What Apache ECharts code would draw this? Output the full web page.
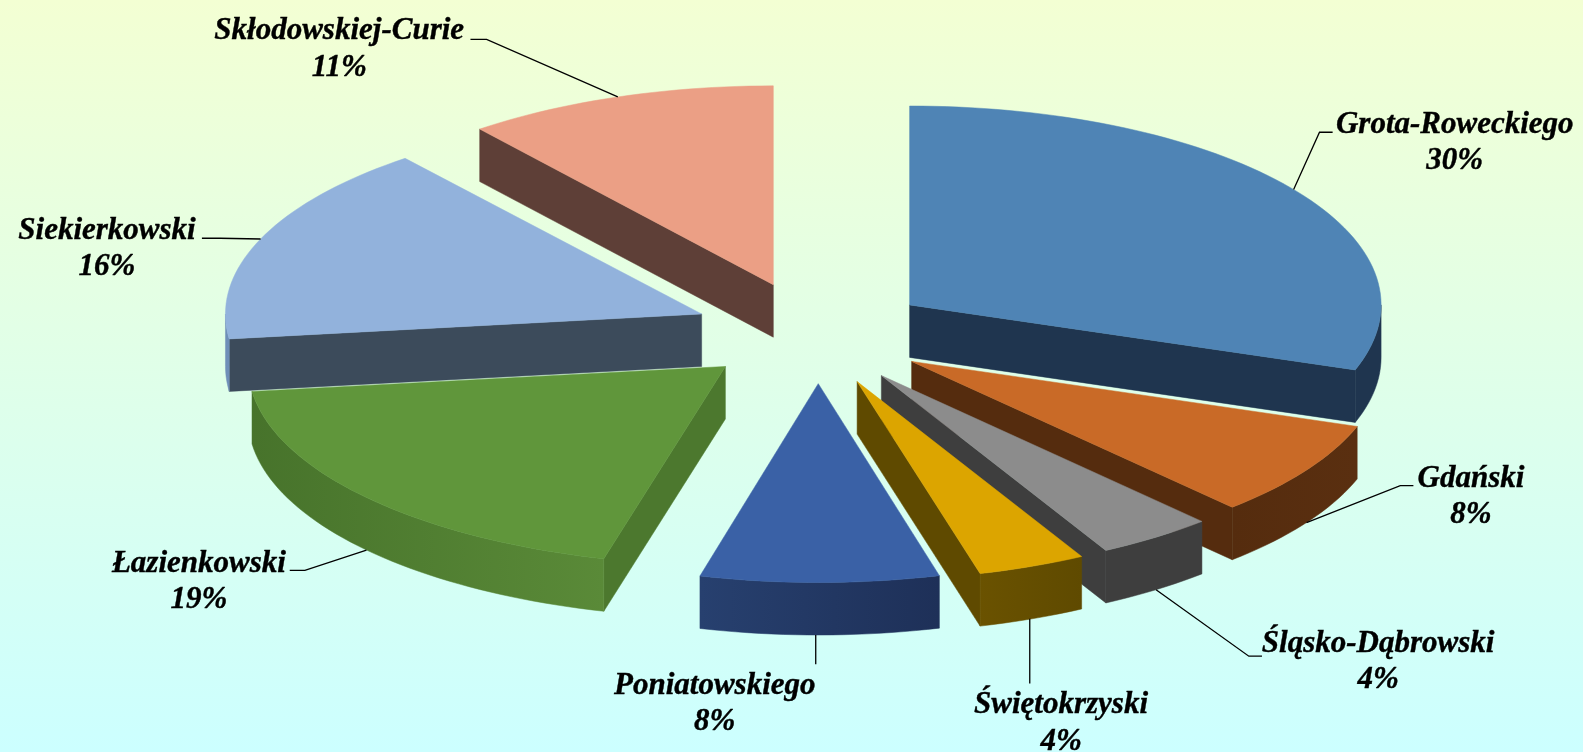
<!DOCTYPE html>
<html><head><meta charset="utf-8">
<style>html,body{margin:0;padding:0;width:100%;height:100%;overflow:hidden}#c{width:1583px;height:752px}</style>
<script src="https://cdn.jsdelivr.net/npm/echarts@6/dist/echarts.min.js"></script>
</head><body><div id="c"></div>
<script>
// ---- data (labels show the rounded percentage; slice angles) ----
const categories = ['Grota-Roweckiego','Gdański','Śląsko-Dąbrowski','Świętokrzyski','Poniatowskiego','Łazienkowski','Siekierkowski','Skłodowskiej-Curie'];
const values = [30.3,7.8,4.0,3.7,8.3,18.9,16.3,10.7];

// ---- style ----
const topColors  = ['#4f84b5','#c96a27','#8c8c8c','#dca500','#3a61a6','#60963b','#92b2dc','#eb9f85'];
const faceColors = ['#1f354f','#552c0e','#3e3e3e','#5f4a00','#1f3058','#4c782e','#3c4b5b','#5e3f37'];
const rimColors  = [['#1f354f','#1f354f'],['#552c0e','#5a2f10'],['#3e3e3e','#3e3e3e'],['#6a5200','#5f4a00'],['#27406f','#1e3058'],['#47732b','#5a8a38'],['#6f8fb8','#6f8fb8'],['#5e3f37','#5e3f37']];

// ---- layout (measured on a 1568-wide view, scaled by K) ----
const K = 1583/1568;
const RX = 467*K, RY = 197*K, DEPTH = 52*K;
const radiusScale = [1,1,1,1,0.985,1.012,1.01,1];
const apexes = [[901,302],[903,358],[873,372],[849,378],[810.5,380],[718.5,363],[695,311],[766,282]];
const elbows = [[[1307,131],[1320,131]],[[1387,481],[1400,481]],[[1237,650],[1250,650]],[[1020,677]],[[808,658]],[[302,565],[287,565]],[[218,236],[200,236]],[[482,39],[466,39]]];
const verticalLeader = [false,false,false,true,true,false,false,false];
const labelPos = [[1441,123.5],[1457,474.5],[1365,637.5],[1051,698.5],[708,679.5],[197,558.5],[106,228.5],[336,31]];
const LINE_GAP = 36, FONT = 31;
const drawOrder = [7,6,5,0,1,2,3,4];

const total = values.reduce((a,b)=>a+b,0);
const starts = []; { let c=0; values.forEach(v=>{starts.push(c/total*360); c+=v;}); }
const rad = d=>d*Math.PI/180;

function renderItem(params, api){
  const i = drawOrder[params.dataIndex];
  const s = starts[i], e = s + values[i]/total*360;
  const cx = apexes[i][0]*K, cy = apexes[i][1]*K;
  const rx = RX*radiusScale[i];
  const pt = (t,dz)=>[cx+rx*Math.sin(rad(t)), cy-RY*Math.cos(rad(t))+(dz||0)];
  const arc = (a,b,dz)=>{const n=Math.max(2,Math.ceil(Math.abs(b-a)/1.5)),o=[];for(let j=0;j<=n;j++)o.push(pt(a+(b-a)*j/n,dz));return o;};
  const ch = [];
  const poly = (points,fill)=>ch.push({type:'polygon',shape:{points},style:{fill,stroke:fill,lineWidth:0.5},silent:true});

  // visible cut faces
  const quad = t=>{const a=pt(t,0),b=pt(t,DEPTH);poly([[cx,cy],a,b,[cx,cy+DEPTH]],faceColors[i]);};
  if (Math.sin(rad(s))<-1e-6) quad(s);
  if (Math.sin(rad(e))>1e-6) quad(e);
  // outer wall (front half only)
  const a0=Math.max(s,90), a1=Math.min(e,270);
  if (a1>a0){
    const rim=rimColors[i];
    const fill=new echarts.graphic.LinearGradient(0,0,1,0,[{offset:0,color:rim[0]},{offset:1,color:rim[1]}]);
    poly(arc(a0,a1,0).concat(arc(a1,a0,DEPTH)),fill);
  }
  // top
  poly([[cx,cy]].concat(arc(s,e,0)),topColors[i]);

  // leader
  const m=(s+e)/2;
  const anchor=pt(m, Math.cos(rad(m))<0?DEPTH:0);
  if (verticalLeader[i]) anchor[0]=elbows[i][0][0]*K;
  const pts=[anchor].concat(elbows[i].map(p=>[p[0]*K,p[1]*K]));
  ch.push({type:'polyline',shape:{points:pts},style:{stroke:'#000',lineWidth:1.3,fill:null},silent:true});

  // labels
  const lx=labelPos[i][0]*K, ly=labelPos[i][1]*K;
  const txt=(text,y)=>ch.push({type:'text',x:lx,y,silent:true,style:{text,fill:'#000',stroke:'#000',lineWidth:0.4,align:'center',verticalAlign:'middle',font:'italic bold '+FONT+'px "Liberation Serif"'}});
  txt(categories[i],ly);
  txt(Math.round(api.value(0))+'%',ly+LINE_GAP*K);
  return {type:'group',children:ch};
}

const chart = echarts.init(document.getElementById('c'),null,{renderer:'canvas'});
chart.setOption({
  animation:false,
  backgroundColor:new echarts.graphic.LinearGradient(0,0,0,1,[{offset:0,color:'#f3ffd3'},{offset:1,color:'#ccffff'}]),
  series:[{type:'custom',coordinateSystem:'none',renderItem,data:drawOrder.map(i=>[values[i]]),clip:false}]
});
</script></body></html>
